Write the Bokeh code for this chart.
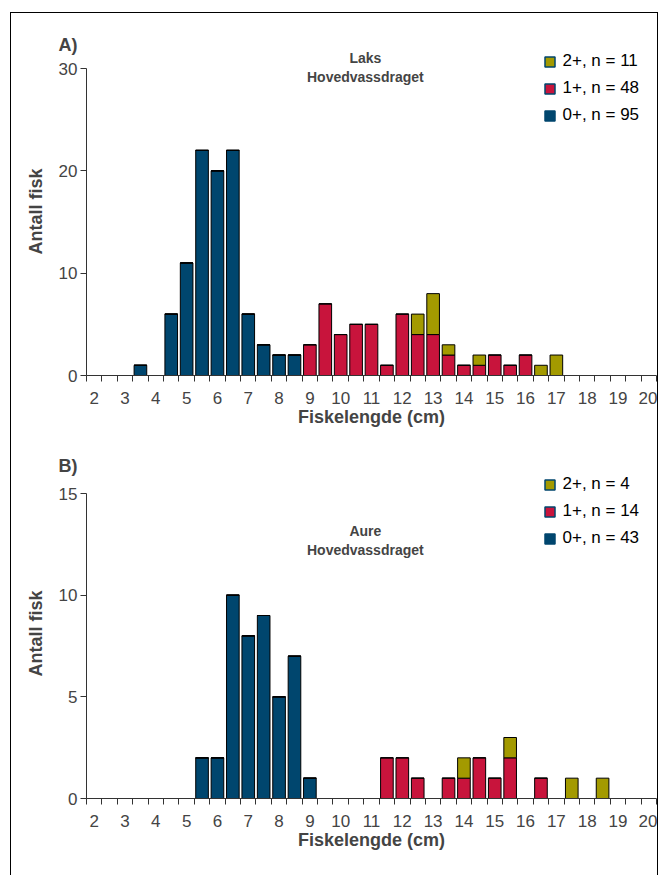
from bokeh.plotting import figure
from bokeh.models import Range1d, FixedTicker, Legend, LegendItem, Label
from bokeh.layouts import column
from bokeh.embed import file_html
from bokeh.resources import INLINE

# ---------------- data ----------------
lengths = [2.0, 2.5, 3.0, 3.5, 4.0, 4.5, 5.0, 5.5, 6.0, 6.5, 7.0, 7.5, 8.0, 8.5,
           9.0, 9.5, 10.0, 10.5, 11.0, 11.5, 12.0, 12.5, 13.0, 13.5, 14.0, 14.5,
           15.0, 15.5, 16.0, 16.5, 17.0, 17.5, 18.0, 18.5, 19.0, 19.5, 20.0]
tick_labels = [2, 3, 4, 5, 6, 7, 8, 9, 10, 11, 12, 13, 14, 15, 16, 17, 18, 19, 20]

laks_0 = [0, 0, 0, 1, 0, 6, 11, 22, 20, 22, 6, 3, 2, 2, 0, 0, 0, 0, 0, 0, 0, 0,
          0, 0, 0, 0, 0, 0, 0, 0, 0, 0, 0, 0, 0, 0, 0]
laks_1 = [0, 0, 0, 0, 0, 0, 0, 0, 0, 0, 0, 0, 0, 0, 3, 7, 4, 5, 5, 1, 6, 4,
          4, 2, 1, 1, 2, 1, 2, 0, 0, 0, 0, 0, 0, 0, 0]
laks_2 = [0, 0, 0, 0, 0, 0, 0, 0, 0, 0, 0, 0, 0, 0, 0, 0, 0, 0, 0, 0, 0, 2,
          4, 1, 0, 1, 0, 0, 0, 1, 2, 0, 0, 0, 0, 0, 0]

aure_0 = [0, 0, 0, 0, 0, 0, 0, 2, 2, 10, 8, 9, 5, 7, 1, 0, 0, 0, 0, 0, 0, 0,
          0, 0, 0, 0, 0, 0, 0, 0, 0, 0, 0, 0, 0, 0, 0]
aure_1 = [0, 0, 0, 0, 0, 0, 0, 0, 0, 0, 0, 0, 0, 0, 0, 0, 0, 0, 0, 2, 2, 1,
          0, 1, 1, 2, 1, 2, 0, 1, 0, 0, 0, 0, 0, 0, 0]
aure_2 = [0, 0, 0, 0, 0, 0, 0, 0, 0, 0, 0, 0, 0, 0, 0, 0, 0, 0, 0, 0, 0, 0,
          0, 0, 1, 0, 0, 1, 0, 0, 0, 1, 0, 1, 0, 0, 0]

laks_legend = ["2+, n = 11", "1+, n = 48", "0+, n = 95"]
aure_legend = ["2+, n = 4", "1+, n = 14", "0+, n = 43"]

laks_yticks = [0, 10, 20, 30]
aure_yticks = [0, 5, 10, 15]

# ---------------- style ----------------
BLUE = "#00466E"
RED = "#C8143C"
OLIVE = "#A39A00"
AXIS = "#333333"
FONT = "Liberation Sans"


def make_chart(v0, v1, v2, ymax, yticks, legend_labels, letter, title1,
               h, top, bottom, frame_h, axis_h, title_dy):
    # frame extends above the y axis top so the legend and titles fit inside
    y_end = ymax * frame_h / axis_h
    p = figure(width=646, height=h, output_backend="svg", toolbar_location=None,
               x_range=Range1d(1.75, 20.25), y_range=Range1d(0, y_end),
               min_border_left=75, min_border_right=1,
               min_border_top=top, min_border_bottom=bottom)
    p.outline_line_color = None
    p.grid.visible = False
    p.background_fill_color = "white"
    p.border_fill_color = "white"

    src = {"x": lengths, "y0": v0, "y1": v1, "y2": v2}
    p.vbar_stack(["y0", "y1", "y2"], x="x", width=0.41, source=src,
                 fill_color=[BLUE, RED, OLIVE], line_color="black", line_width=1)

    # x axis: labels at integer lengths, ticks at bin boundaries
    xa = p.xaxis[0]
    bounds = [v - 0.25 for v in lengths] + [lengths[-1] + 0.25]
    xa.ticker = FixedTicker(ticks=tick_labels, minor_ticks=bounds)
    xa.major_tick_out = 0
    xa.major_tick_in = 0
    xa.minor_tick_out = 6
    xa.minor_tick_in = 0
    xa.minor_tick_line_color = AXIS
    xa.axis_line_color = AXIS
    xa.major_label_text_font = FONT
    xa.major_label_text_font_size = "17px"
    xa.major_label_standoff = 10
    xa.axis_label = "Fiskelengde (cm)"
    xa.axis_label_text_font = FONT
    xa.axis_label_text_font_size = "18px"
    xa.axis_label_text_font_style = "bold"
    xa.axis_label_standoff = 0

    ya = p.yaxis[0]
    ya.ticker = FixedTicker(ticks=yticks)
    ya.bounds = (0, ymax)
    ya.major_tick_out = 6
    ya.major_tick_in = 0
    ya.minor_tick_line_color = None
    ya.axis_line_color = AXIS
    ya.major_tick_line_color = AXIS
    ya.major_label_text_font = FONT
    ya.major_label_text_font_size = "17px"
    ya.major_label_standoff = 3
    ya.axis_label = "Antall fisk"
    ya.axis_label_text_font = FONT
    ya.axis_label_text_font_size = "18px"
    ya.axis_label_text_font_style = "bold"
    ya.axis_label_standoff = 10

    # panel letter as the plot title, shifted left over the y axis
    p.title.text = letter
    p.title.align = "left"
    p.title.offset = -28
    p.title.standoff = -14
    p.title.text_font = FONT
    p.title.text_font_size = "18px"
    p.title.text_font_style = "bold"

    # titles inside the chart (pixel offsets below the y-axis top)
    ppu = axis_h / ymax
    for txt, dy in zip([title1, "Hovedvassdraget"], title_dy):
        p.add_layout(Label(x=10.8, y=ymax - dy / ppu, text=txt, text_font=FONT,
                           text_font_size="14px", text_font_style="bold",
                           text_baseline="middle", text_align="center"))

    # legend (Excel-like: dark blue outline around the swatches)
    nan = float("nan")
    r2 = p.scatter(x=[lengths[0]], y=[nan], marker="square", size=10,
                   fill_color=OLIVE, line_color=BLUE, line_width=1.5)
    r1 = p.scatter(x=[lengths[0]], y=[nan], marker="square", size=10,
                   fill_color=RED, line_color=BLUE, line_width=1.5)
    r0 = p.scatter(x=[lengths[0]], y=[nan], marker="square", size=10,
                   fill_color=BLUE, line_color=BLUE, line_width=1.5)
    leg = Legend(items=[LegendItem(label=legend_labels[0], renderers=[r2]),
                        LegendItem(label=legend_labels[1], renderers=[r1]),
                        LegendItem(label=legend_labels[2], renderers=[r0])],
                 location=(450.5, 247.5), padding=0, margin=0, spacing=2,
                 glyph_width=25, glyph_height=25, label_standoff=1,
                 label_text_font=FONT, label_text_font_size="17px",
                 label_text_color="black", background_fill_alpha=0,
                 border_line_color=None)
    p.add_layout(leg, "center")
    return p


p1 = make_chart(laks_0, laks_1, laks_2, 30, laks_yticks, laks_legend, "A)", "Laks",
                h=422, top=34, bottom=60, frame_h=328, axis_h=307,
                title_dy=(-11, 8))
p2 = make_chart(aure_0, aure_1, aure_2, 15, aure_yticks, aure_legend, "B)", "Aure",
                h=440, top=33, bottom=77, frame_h=330, axis_h=305,
                title_dy=(37, 56))

layout = column(p1, p2, styles={"outline": "1px solid black",
                                "margin-left": "11px", "margin-top": "13px"})

open("out.html", "w").write(file_html(layout, INLINE))
